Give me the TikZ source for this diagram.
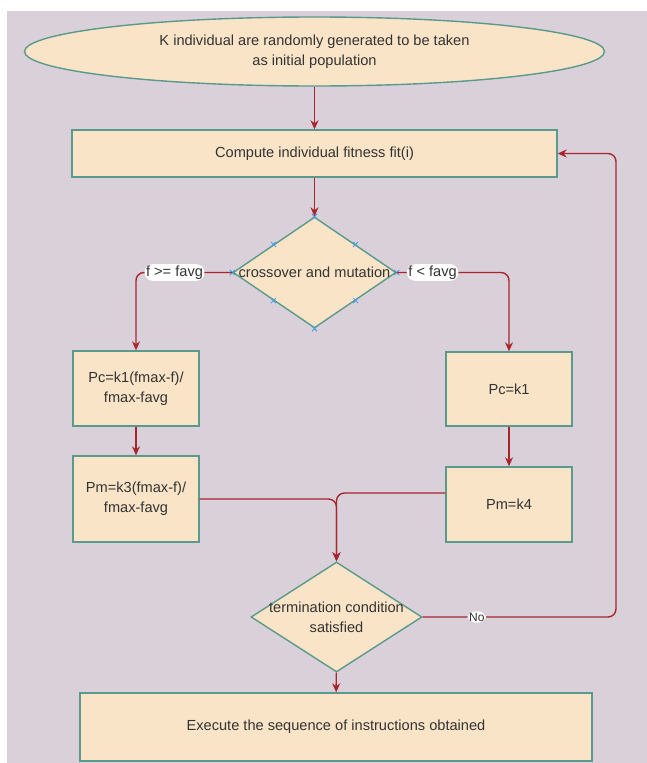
\documentclass[tikz,border=0pt]{standalone}
\usepackage{fontspec}
\setmainfont{Liberation Sans}
\usetikzlibrary{arrows.meta,shapes.geometric}
\definecolor{bgcol}{HTML}{D9D0DA}
\definecolor{boxfill}{HTML}{F9E4C7}
\definecolor{boxline}{HTML}{5A9A8C}
\definecolor{flow}{HTML}{A8262B}
\definecolor{txtcol}{HTML}{333333}
\definecolor{markcol}{HTML}{4A9FE0}

\begin{document}
\begin{tikzpicture}[x=1pt, y=-1pt,
    every node/.style={font=\fontsize{14.6}{20}\selectfont, text=txtcol},
    block/.style={rectangle, draw=boxline, fill=boxfill, line width=1.4pt, inner sep=0pt, align=center},
    startend/.style={ellipse, draw=boxline, fill=boxfill, line width=1.4pt, inner sep=0pt, align=center},
    decision/.style={diamond, draw=boxline, fill=boxfill, line width=1.4pt, inner sep=0pt},
    flowline/.style={draw=flow, line width=1.4pt, rounded corners=8pt, -{Stealth[length=9pt,width=8pt]}},
    lbl/.style={fill=white, inner sep=1.5pt}]
    \useasboundingbox (0,0) rectangle (647,763);
    \fill[white] (0,0) rectangle (647,763);
    \fill[bgcol] (7,11) rectangle (647,763);

    \node[startend, minimum width=580, minimum height=69] (init) at (314.5,51.5) {K individual are randomly generated to be taken\\as initial population};
    \node[block, minimum width=485, minimum height=47] (fit) at (314.5,153.5) {Compute individual fitness fit(i)};
    \node[decision, minimum width=163, minimum height=111] (cross) at (314.5,272.5) {};
    \node (crosstext) at (cross) {crossover and mutation};
    \node[block, minimum width=126, minimum height=75] (pc1) at (136,388.5) {Pc=k1(fmax-f)/\\fmax-favg};
    \node[block, minimum width=126, minimum height=86] (pm1) at (136,499) {Pm=k3(fmax-f)/\\fmax-favg};
    \node[block, minimum width=126, minimum height=74] (pc2) at (509,389) {Pc=k1};
    \node[block, minimum width=126, minimum height=75] (pm2) at (509,504.5) {Pm=k4};
    \node[decision, minimum width=171, minimum height=110] (term) at (336.5,617) {};
    \node[align=center] (termtext) at (term) {termination condition\\satisfied};
    \node[block, minimum width=512, minimum height=68] (exec) at (336,727) {Execute the sequence of instructions obtained};
    \coordinate (back) at (616,153.5);

    \foreach \a in {north,south,east,west,north east,north west,south east,south west}
        \draw[markcol, line width=1pt] ([shift={(-2.5,-2.5)}]cross.\a) -- ++(5,5)
            ([shift={(-2.5,2.5)}]cross.\a) -- ++(5,-5);

    \draw[flowline] (init) -- (fit);
    \draw[flowline] (fit) -- (cross);
    \draw[flowline] (cross.west) -| node[lbl, pos=0.3] {f >= favg} (pc1.north);
    \draw[flowline] (cross.east) -| node[lbl, pos=0.16] {f < favg} (pc2.north);
    \draw[flowline] (pc1) -- (pm1);
    \draw[flowline] (pc2) -- (pm2);
    \draw[flowline] (pm1.east) -| (term.north);
    \draw[flowline] ([yshift=11.5pt]pm2.west) -| (term.north);
    \draw[flowline] (term.east) -| node[lbl, pos=0.14, font=\fontsize{12}{14}\selectfont] {No} (back) -- (fit.east);
    \draw[flowline] (term) -- (exec);
\end{tikzpicture}
\end{document}
